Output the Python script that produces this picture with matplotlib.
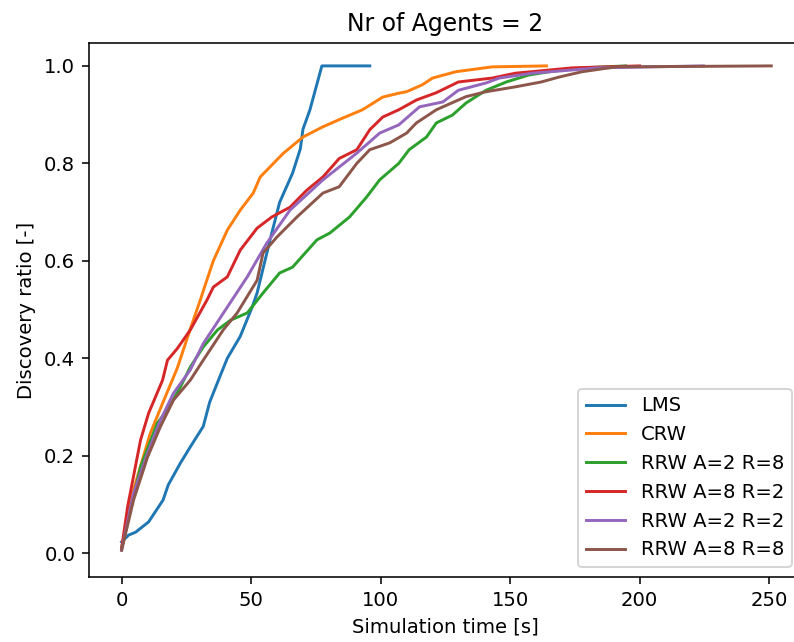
import matplotlib
matplotlib.use("Agg")
import matplotlib.pyplot as plt

# discovery ratio curves
lms_t = [0, 2.7, 5.4, 10.4, 16, 18, 22.7, 26.5, 31.5, 34, 37, 40.8, 45.8, 50.4, 52.3,
         57.3, 61, 66, 69, 70, 72.7, 77.3, 95.8]
lms_r = [0.023, 0.037, 0.043, 0.064, 0.109, 0.14, 0.185, 0.218, 0.26, 0.31, 0.35, 0.40,
         0.445, 0.505, 0.534, 0.643, 0.72, 0.78, 0.83, 0.87, 0.91, 1.0, 1.0]

crw_t = [0, 3.5, 11, 16, 21.5, 26.5, 30.4, 32, 35.4, 40.8, 45.8, 50.8, 53.5, 62.3, 70,
         77.7, 85.4, 93, 100.8, 107, 110, 116, 120, 129, 143, 164]
crw_r = [0.01, 0.11, 0.245, 0.31, 0.38, 0.46, 0.52, 0.546, 0.60, 0.663, 0.704, 0.739,
         0.772, 0.82, 0.854, 0.875, 0.893, 0.91, 0.936, 0.944, 0.947, 0.961, 0.975,
         0.988, 0.998, 1.0]

a2r8_t = [0, 7.3, 13.8, 17.7, 22.7, 26.5, 31.5, 37, 42, 48.5, 54.6, 61, 66, 75.4, 80.4,
          88, 94.6, 99.6, 107, 111, 117.7, 121.5, 127.7, 133, 140.7, 148.5, 157, 165,
          177.7, 194.6]
a2r8_r = [0.012, 0.177, 0.267, 0.294, 0.341, 0.382, 0.423, 0.458, 0.478, 0.493, 0.534,
          0.575, 0.587, 0.643, 0.657, 0.69, 0.731, 0.766, 0.80, 0.828, 0.854, 0.883,
          0.899, 0.924, 0.95, 0.967, 0.981, 0.988, 0.996, 1.0]

a8r2_t = [0, 2.3, 7.3, 10.4, 15.8, 17.7, 21.5, 26.5, 33, 35.4, 40.8, 45.8, 52.3, 58, 65,
          71.5, 77.7, 84, 90.8, 95.8, 100.8, 107, 113.8, 121.5, 130, 143, 152, 174, 200]
a8r2_r = [0.01, 0.095, 0.232, 0.287, 0.355, 0.396, 0.42, 0.458, 0.52, 0.546, 0.567,
          0.622, 0.667, 0.69, 0.71, 0.745, 0.772, 0.81, 0.828, 0.869, 0.895, 0.91, 0.93,
          0.945, 0.967, 0.975, 0.985, 0.996, 1.0]

a2r2_t = [0, 4.6, 10, 15, 20, 26.5, 31.5, 40.8, 48.5, 56, 65, 77.7, 90.8, 99.6, 107, 115,
          124, 130, 140.7, 145.8, 158.5, 184, 224.6]
a2r2_r = [0.006, 0.123, 0.205, 0.273, 0.328, 0.376, 0.43, 0.505, 0.567, 0.636, 0.704,
          0.766, 0.821, 0.862, 0.879, 0.916, 0.926, 0.95, 0.965, 0.975, 0.985, 0.996, 1.0]

a8r8_t = [0, 4.6, 10, 15, 20, 26.5, 31.5, 39.2, 44.6, 47.7, 52.3, 54.6, 60, 67.7, 77.7,
          84, 90.8, 95.8, 103.5, 110, 113.8, 121.5, 133, 140.7, 152, 162, 168.8, 177.7,
          190.8, 250.8]
a8r8_r = [0.006, 0.109, 0.197, 0.26, 0.314, 0.355, 0.396, 0.458, 0.493, 0.52, 0.56,
          0.616, 0.649, 0.69, 0.739, 0.752, 0.80, 0.828, 0.842, 0.862, 0.883, 0.91, 0.937,
          0.947, 0.957, 0.967, 0.977, 0.988, 0.998, 1.0]

series = [
    ("LMS", lms_t, lms_r),
    ("CRW", crw_t, crw_r),
    ("RRW A=2 R=8", a2r8_t, a2r8_r),
    ("RRW A=8 R=2", a8r2_t, a8r2_r),
    ("RRW A=2 R=2", a2r2_t, a2r2_r),
    ("RRW A=8 R=8", a8r8_t, a8r8_r),
]

# the reference is rendered ~1.41x bigger than plain dpi=100
dpi = 141
fig = plt.figure(figsize=(794 / dpi, 642 / dpi), dpi=dpi)
ax = fig.add_axes([89 / 794, 1 - 577 / 642, (802 - 89) / 794, (577 - 43) / 642])

for name, t, r in series:
    ax.plot(t, r, label=name)

ax.set_xlim(-12.6, (802 - 121.7) / 2.59 - 0.0)
ax.set_ylim(-0.049, 1.047)
ax.set_title("Nr of Agents = 2")
ax.set_xlabel("Simulation time [s]")
ax.set_ylabel("Discovery ratio [-]")
ax.legend(loc="lower right")

fig.savefig("out.png", dpi=dpi)
